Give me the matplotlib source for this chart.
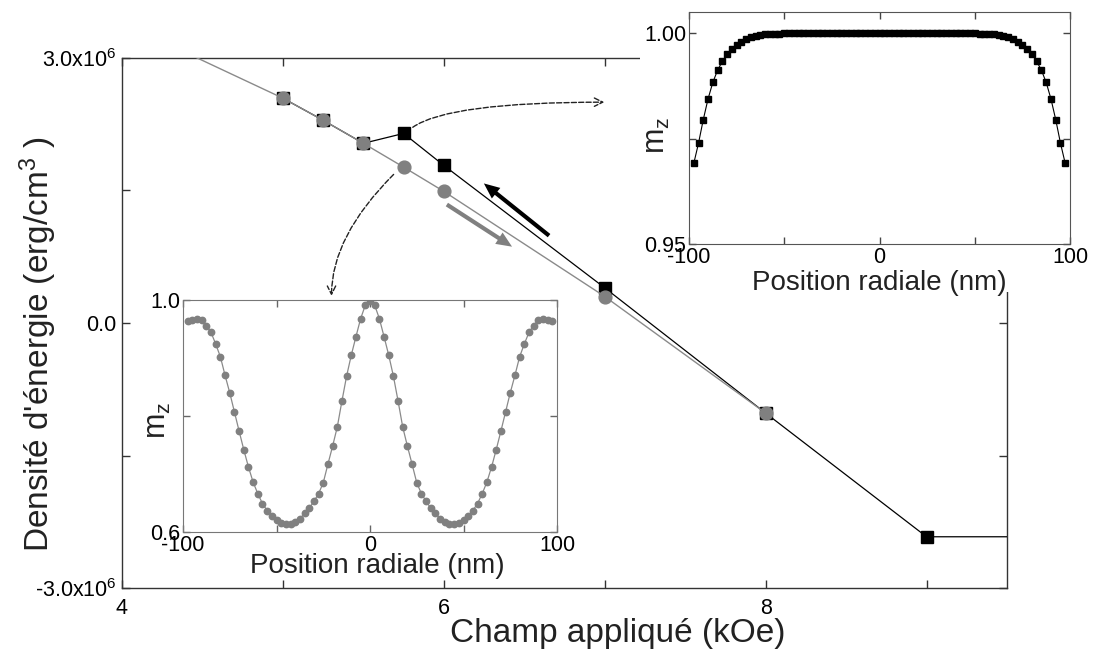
import matplotlib
matplotlib.use('Agg')
import matplotlib.pyplot as plt
from matplotlib.patches import FancyArrowPatch

plt.rcParams['font.family'] = ['Liberation Sans', 'DejaVu Sans']
plt.rcParams['mathtext.fontset'] = 'custom'
plt.rcParams['mathtext.rm'] = 'Liberation Sans'
plt.rcParams['mathtext.it'] = 'Liberation Sans:italic'
plt.rcParams['axes.unicode_minus'] = False

# ---------------- data ----------------
# main plot: energy density vs applied field
field_up = [5.0, 5.25, 5.5, 5.75, 6.0, 7.0, 8.0, 9.0, 10.0]
energy_up = [2.545e6, 2.295e6, 2.034e6, 2.146e6, 1.784e6, 0.398e6, -1.02e6, -2.42e6, -2.42e6]

field_down = [4.0, 5.0, 5.25, 5.5, 5.75, 6.0, 7.0, 8.0]
energy_down = [3.4e6, 2.545e6, 2.295e6, 2.034e6, 1.765e6, 1.49e6, 0.30e6, -1.02e6]

main_xticks = [4, 5, 6, 7, 8, 9]
main_xticklabels = ['4', '', '6', '', '8', '']
main_yticks = [-3.0e6, -1.5e6, 0.0, 1.5e6, 3.0e6]
main_yticklabels = ['-3.0x10$^6$', '', '0.0', '', '3.0x10$^6$']

# insets: radial profile of m_z
radial_nm = [-97.5, -95.0, -92.5, -90.0, -87.5, -85.0, -82.5, -80.0, -77.5, -75.0,
             -72.5, -70.0, -67.5, -65.0, -62.5, -60.0, -57.5, -55.0, -52.5, -50.0,
             -47.5, -45.0, -42.5, -40.0, -37.5, -35.0, -32.5, -30.0, -27.5, -25.0,
             -22.5, -20.0, -17.5, -15.0, -12.5, -10.0, -7.5, -5.0, -2.5, 0.0,
             2.5, 5.0, 7.5, 10.0, 12.5, 15.0, 17.5, 20.0, 22.5, 25.0,
             27.5, 30.0, 32.5, 35.0, 37.5, 40.0, 42.5, 45.0, 47.5, 50.0,
             52.5, 55.0, 57.5, 60.0, 62.5, 65.0, 67.5, 70.0, 72.5, 75.0,
             77.5, 80.0, 82.5, 85.0, 87.5, 90.0, 92.5, 95.0, 97.5]

mz_uniform = [0.9691, 0.9739, 0.9795, 0.9844, 0.9883, 0.9912, 0.9933, 0.9951, 0.9962, 0.9972,
              0.9980, 0.9986, 0.9991, 0.9994, 0.9996, 0.9997, 0.9998, 0.9999, 0.9999, 1.0000,
              1.0000, 1.0000, 1.0000, 1.0000, 1.0000, 1.0000, 1.0000, 1.0000, 1.0000, 1.0000,
              1.0000, 1.0000, 1.0000, 1.0000, 1.0000, 1.0000, 1.0000, 1.0000, 1.0000, 1.0000,
              1.0000, 1.0000, 1.0000, 1.0000, 1.0000, 1.0000, 1.0000, 1.0000, 1.0000, 1.0000,
              1.0000, 1.0000, 1.0000, 1.0000, 1.0000, 1.0000, 1.0000, 1.0000, 1.0000, 1.0000,
              0.9999, 0.9999, 0.9998, 0.9997, 0.9996, 0.9994, 0.9991, 0.9986, 0.9980, 0.9972,
              0.9962, 0.9951, 0.9933, 0.9912, 0.9883, 0.9844, 0.9795, 0.9739, 0.9691]

mz_ring = [0.964, 0.966, 0.967, 0.965, 0.956, 0.944, 0.924, 0.902, 0.870, 0.840,
           0.807, 0.774, 0.742, 0.712, 0.686, 0.666, 0.649, 0.637, 0.628, 0.620,
           0.616, 0.614, 0.614, 0.617, 0.623, 0.632, 0.641, 0.653, 0.666, 0.685,
           0.717, 0.748, 0.781, 0.826, 0.869, 0.905, 0.937, 0.968, 0.991, 0.998,
           0.991, 0.968, 0.937, 0.905, 0.869, 0.826, 0.781, 0.748, 0.717, 0.685,
           0.666, 0.653, 0.641, 0.632, 0.623, 0.617, 0.614, 0.614, 0.616, 0.620,
           0.628, 0.637, 0.649, 0.666, 0.686, 0.712, 0.742, 0.774, 0.807, 0.840,
           0.870, 0.902, 0.924, 0.944, 0.956, 0.965, 0.967, 0.966, 0.964]

inset_xticks = [-100, -50, 0, 50, 100]
inset_xticklabels = ['-100', '', '0', '', '100']
inset1_yticks = [0.95, 0.975, 1.00]
inset1_yticklabels = ['0.95', '', '1.00']
inset2_yticks = [0.6, 0.8, 1.0]
inset2_yticklabels = ['0.6', '', '1.0']

# ---------------- figure ----------------
W, H = 1093, 656
fig = plt.figure(figsize=(W / 100, H / 100), dpi=100)


def rect(x0, y0, x1, y1):
    """pixel box (top-left origin) -> figure fraction rect"""
    return [x0 / W, 1 - y1 / H, (x1 - x0) / W, (y1 - y0) / H]


GRAY = '#808080'
SPINE = '#333333'

ax = fig.add_axes(rect(122, 58, 1007, 588))
ax.set_zorder(0)
ax.plot(field_up, energy_up, '-', color='black', lw=0.9,
        marker='s', ms=8.6, mfc='black', mec='black', zorder=3)
ax.plot(field_down, energy_down, '-', color='#8a8a8a', lw=1.0,
        marker='o', ms=9.2, mfc=GRAY, mec=GRAY, zorder=4)
ax.set_xlim(4, 9.5)
ax.set_ylim(-3.0e6, 3.0e6)
ax.set_xticks(main_xticks)
ax.set_xticklabels(main_xticklabels)
ax.set_yticks(main_yticks)
ax.set_yticklabels(main_yticklabels)
ax.tick_params(direction='in', top=True, right=True, length=6, width=1,
               labelsize=15.5, pad=4, color=SPINE)
ax.tick_params(axis='x', pad=7)
for s in ax.spines.values():
    s.set_color(SPINE)
    s.set_linewidth(1.0)
ax.set_xlabel('Champ appliqué (kOe)', fontsize=24, color='#222222')
ax.xaxis.set_label_coords(0.56, -0.085)
ax.xaxis.label.set_verticalalignment('center')
ax.set_ylabel("Densité d'énergie (erg/cm$^{3}$ )", fontsize=24, color='#222222')
ax.yaxis.set_label_coords(-0.095, 0.46)
ax.yaxis.label.set_verticalalignment('center')

# thick direction arrows
ax.add_patch(FancyArrowPatch((6.654, 0.989e6), (6.249, 1.58e6),
                             arrowstyle='simple,head_length=0.75,head_width=0.65,tail_width=0.2',
                             mutation_scale=15, color='black', lw=0, shrinkA=0, shrinkB=0, zorder=5))
ax.add_patch(FancyArrowPatch((6.019, 1.341e6), (6.424, 0.864e6),
                             arrowstyle='simple,head_length=0.75,head_width=0.65,tail_width=0.2',
                             mutation_scale=15, color=GRAY, lw=0, shrinkA=0, shrinkB=0, zorder=5))

# dashed pointer arrows to insets
ax.annotate('', xy=(6.997, 2.5e6), xytext=(5.807, 2.216e6),
            arrowprops=dict(arrowstyle='->,head_length=0.6,head_width=0.3', linestyle='--',
                            lw=1, color='#222222', shrinkA=0, shrinkB=0,
                            connectionstyle='angle3,angleA=35,angleB=0'))
ax.annotate('', xy=(5.302, 0.307e6), xytext=(5.688, 1.682e6),
            arrowprops=dict(arrowstyle='->,head_length=0.6,head_width=0.3', linestyle='--',
                            lw=1, color='#222222', shrinkA=0, shrinkB=0,
                            connectionstyle='angle3,angleA=45,angleB=90'))

# white backdrop behind inset 1 (hides main frame corner)
bg = fig.add_axes(rect(640, 0, 1093, 292))
bg.set_zorder(1)
bg.set_xticks([])
bg.set_yticks([])
for s in bg.spines.values():
    s.set_visible(False)

# inset 1 : uniform state
a1 = fig.add_axes(rect(689, 12, 1070, 244))
a1.set_zorder(2)
a1.plot(radial_nm, mz_uniform, '-', color='black', lw=0.8,
        marker='s', ms=4.6, mfc='black', mec='black')
a1.set_xlim(-100, 100)
a1.set_ylim(0.95, 1.005)
a1.set_xticks(inset_xticks)
a1.set_xticklabels(inset_xticklabels)
a1.set_yticks(inset1_yticks)
a1.set_yticklabels(inset1_yticklabels)
a1.tick_params(direction='in', top=True, right=True, length=5, width=1,
               labelsize=15.5, pad=2, color='#444444')
for s in a1.spines.values():
    s.set_color('#555555')
a1.set_xlabel('Position radiale (nm)', fontsize=20, color='#222222')
a1.xaxis.set_label_coords(0.5, -0.17)
a1.xaxis.label.set_verticalalignment('center')
a1.set_ylabel('$\\mathregular{m_z}$', fontsize=22, color='#222222')
a1.yaxis.set_label_coords(-0.085, 0.47)
a1.yaxis.label.set_verticalalignment('center')

# inset 2 : ring / modulated state
a2 = fig.add_axes(rect(183, 300, 557, 532))
a2.set_zorder(2)
a2.plot(radial_nm, mz_ring, '-', color='#8a8a8a', lw=0.9,
        marker='o', ms=4.6, mfc=GRAY, mec=GRAY)
a2.set_xlim(-100, 100)
a2.set_ylim(0.6, 1.0)
a2.set_xticks(inset_xticks)
a2.set_xticklabels(inset_xticklabels)
a2.set_yticks(inset2_yticks)
a2.set_yticklabels(inset2_yticklabels)
a2.tick_params(direction='in', top=True, right=True, length=5, width=1,
               labelsize=15.5, pad=2, color='#666666')
for s in a2.spines.values():
    s.set_color('#777777')
a2.set_xlabel('Position radiale (nm)', fontsize=20, color='#222222')
a2.xaxis.set_label_coords(0.52, -0.145)
a2.xaxis.label.set_verticalalignment('center')
a2.set_ylabel('$\\mathregular{m_z}$', fontsize=22, color='#222222')
a2.yaxis.set_label_coords(-0.068, 0.48)
a2.yaxis.label.set_verticalalignment('center')

fig.savefig('out.png', dpi=100)
